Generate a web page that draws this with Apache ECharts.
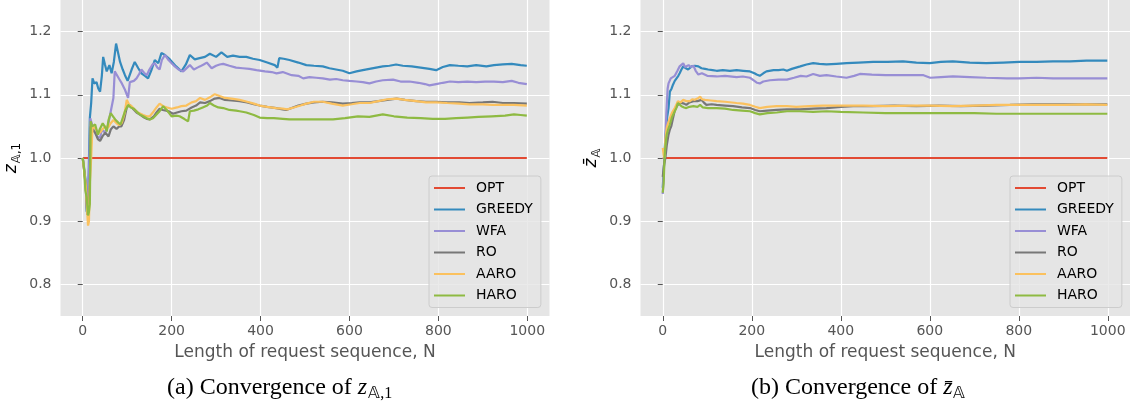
<!DOCTYPE html>
<html>
<head>
<meta charset="utf-8">
<script src="https://cdn.jsdelivr.net/npm/echarts@6/dist/echarts.min.js"></script>
<style>
  html, body { margin: 0; padding: 0; background: #fff; }
  #chart { width: 1131px; height: 413px; }
</style>
</head>
<body>
<div id="chart"></div>
<script>
// 刻度
var xTicks = [0, 200, 400, 600, 800, 1000];
var yTicks = [0.8, 0.9, 1.0, 1.1, 1.2];
var names = ["OPT", "GREEDY", "WFA", "RO", "AARO", "HARO"];
var colors = ["#E24A33", "#348ABD", "#988ED5", "#777777", "#FBC15E", "#8EBA42"];

// (a) z_{A,1}
var optA = [[0, 1.0], [999, 1.0]];
var greedyA = [[0,1.0],[4,1.0],[7,0.96],[9,0.915],[12,0.93],[16,1.063],[19,1.087],[22,1.126],[26,1.118],[31,1.12],[35,1.11],[39,1.105],[43,1.13],[46,1.16],[50,1.148],[54,1.137],[60,1.147],[65,1.134],[70,1.152],[75,1.181],[80,1.165],[84,1.152],[90,1.14],[95,1.131],[101,1.122],[105,1.121],[110,1.14],[117,1.152],[125,1.142],[132,1.134],[140,1.13],[147,1.126],[155,1.14],[162,1.155],[170,1.15],[177,1.166],[185,1.163],[196,1.156],[210,1.145],[222,1.137],[232,1.148],[241,1.163],[252,1.156],[263,1.158],[275,1.16],[286,1.165],[300,1.16],[312,1.167],[325,1.16],[338,1.162],[353,1.16],[368,1.16],[383,1.157],[398,1.155],[415,1.151],[432,1.147],[438,1.143],[442,1.158],[452,1.157],[465,1.155],[485,1.151],[503,1.147],[520,1.146],[540,1.145],[555,1.142],[570,1.14],[585,1.138],[600,1.134],[616,1.137],[630,1.139],[645,1.141],[660,1.143],[675,1.145],[690,1.146],[705,1.148],[720,1.146],[740,1.145],[760,1.143],[780,1.141],[795,1.139],[810,1.144],[826,1.147],[845,1.146],[865,1.145],[885,1.147],[908,1.145],[925,1.147],[945,1.148],[965,1.149],[985,1.147],[999,1.146]];
var wfaA = [[0,1.0],[4,1.0],[7,0.96],[9,0.92],[12,0.93],[15,1.0],[17,1.063],[22,1.05],[28,1.04],[34,1.033],[39,1.032],[43,1.045],[46,1.048],[50,1.04],[57,1.052],[62,1.07],[69,1.095],[72,1.137],[76,1.134],[82,1.125],[88,1.118],[95,1.108],[102,1.095],[106,1.12],[115,1.122],[121,1.126],[127,1.133],[132,1.14],[138,1.135],[144,1.131],[150,1.14],[157,1.148],[162,1.15],[168,1.143],[173,1.14],[178,1.155],[185,1.163],[193,1.155],[200,1.15],[207,1.145],[216,1.14],[226,1.137],[235,1.143],[241,1.147],[250,1.14],[258,1.143],[264,1.145],[272,1.148],[279,1.151],[290,1.142],[300,1.146],[308,1.148],[316,1.149],[330,1.146],[345,1.143],[360,1.142],[375,1.141],[391,1.139],[410,1.137],[425,1.136],[436,1.134],[450,1.136],[470,1.131],[485,1.13],[496,1.126],[510,1.128],[525,1.127],[540,1.126],[556,1.124],[570,1.125],[585,1.123],[600,1.122],[616,1.121],[630,1.12],[645,1.118],[660,1.121],[675,1.123],[698,1.124],[715,1.121],[735,1.121],[755,1.119],[770,1.117],[780,1.115],[795,1.117],[810,1.119],[826,1.121],[845,1.12],[865,1.121],[885,1.12],[905,1.121],[925,1.121],[945,1.12],[965,1.122],[980,1.119],[999,1.117]];
var roA = [[0,1.0],[4,1.0],[7,0.955],[10,0.91],[13,0.92],[16,0.96],[18,1.05],[22,1.045],[28,1.04],[34,1.03],[39,1.027],[45,1.035],[51,1.04],[58,1.034],[63,1.045],[69,1.05],[76,1.046],[82,1.05],[87,1.05],[93,1.06],[99,1.08],[106,1.084],[114,1.077],[121,1.072],[128,1.069],[136,1.065],[144,1.062],[151,1.061],[160,1.066],[166,1.072],[173,1.078],[180,1.076],[188,1.075],[196,1.073],[203,1.07],[212,1.072],[222,1.074],[233,1.075],[245,1.08],[255,1.083],[264,1.088],[275,1.087],[286,1.09],[297,1.094],[308,1.095],[320,1.092],[335,1.091],[353,1.09],[370,1.088],[385,1.085],[398,1.083],[415,1.081],[435,1.079],[450,1.077],[458,1.076],[470,1.079],[485,1.083],[503,1.086],[520,1.088],[540,1.089],[560,1.088],[585,1.086],[605,1.087],[623,1.088],[645,1.088],[665,1.09],[685,1.092],[706,1.094],[725,1.092],[750,1.09],[772,1.089],[795,1.089],[820,1.088],[847,1.088],[870,1.087],[900,1.088],[922,1.089],[945,1.087],[970,1.087],[999,1.086]];
var aaroA = [[0,1.0],[4,1.0],[7,0.955],[10,0.915],[12,0.893],[14,0.9],[16,0.96],[19,1.0],[22,1.05],[28,1.047],[34,1.04],[39,1.04],[45,1.046],[51,1.05],[57,1.048],[63,1.055],[69,1.06],[76,1.055],[82,1.052],[88,1.056],[94,1.07],[99,1.092],[104,1.085],[110,1.082],[118,1.076],[124,1.072],[128,1.069],[136,1.068],[144,1.066],[151,1.066],[160,1.074],[166,1.08],[173,1.086],[181,1.082],[190,1.08],[200,1.078],[212,1.08],[222,1.082],[233,1.083],[245,1.088],[255,1.09],[264,1.095],[275,1.092],[286,1.096],[297,1.101],[308,1.098],[320,1.095],[335,1.094],[353,1.092],[370,1.089],[385,1.086],[398,1.083],[415,1.081],[435,1.079],[450,1.078],[460,1.077],[475,1.08],[490,1.083],[503,1.086],[520,1.089],[540,1.089],[560,1.086],[585,1.083],[605,1.085],[623,1.087],[645,1.087],[665,1.09],[685,1.093],[706,1.094],[725,1.092],[750,1.09],[772,1.088],[795,1.088],[820,1.087],[847,1.086],[870,1.085],[900,1.085],[922,1.084],[945,1.084],[970,1.084],[999,1.083]];
var haroA = [[0,1.0],[3,0.985],[6,0.948],[9,0.937],[12,0.909],[14,0.915],[16,0.927],[18,1.058],[21,1.05],[24,1.048],[28,1.053],[31,1.05],[34,1.037],[38,1.045],[41,1.048],[45,1.055],[48,1.058],[51,1.048],[54,1.042],[58,1.06],[63,1.071],[68,1.066],[73,1.061],[80,1.056],[85,1.053],[89,1.053],[95,1.074],[102,1.084],[108,1.08],[115,1.078],[122,1.073],[128,1.069],[136,1.066],[144,1.063],[151,1.061],[158,1.063],[166,1.069],[173,1.074],[181,1.082],[190,1.075],[200,1.066],[210,1.067],[218,1.066],[228,1.062],[237,1.058],[241,1.074],[250,1.075],[260,1.077],[270,1.08],[280,1.083],[286,1.087],[295,1.083],[305,1.08],[316,1.079],[330,1.076],[345,1.075],[353,1.074],[368,1.072],[385,1.068],[398,1.064],[415,1.063],[430,1.063],[450,1.062],[465,1.061],[485,1.061],[503,1.061],[530,1.061],[563,1.061],[590,1.063],[619,1.066],[645,1.065],[675,1.069],[700,1.066],[730,1.064],[760,1.063],[787,1.062],[815,1.062],[840,1.063],[865,1.064],[890,1.065],[920,1.066],[950,1.067],[970,1.069],[985,1.068],[999,1.067]];

// (b) z̄_A
var optB = [[0, 1.0], [999, 1.0]];
var greedyB = [[0,0.953],[3,0.99],[5,1.022],[8,1.05],[10,1.065],[13,1.079],[16,1.105],[20,1.11],[23,1.116],[27,1.122],[31,1.126],[35,1.13],[38,1.134],[42,1.14],[46,1.145],[52,1.142],[57,1.14],[61,1.143],[65,1.145],[72,1.146],[80,1.145],[87,1.142],[95,1.141],[102,1.14],[112,1.139],[121,1.138],[135,1.139],[151,1.138],[166,1.139],[181,1.138],[196,1.137],[206,1.134],[211,1.132],[218,1.13],[226,1.134],[233,1.137],[249,1.139],[260,1.139],[271,1.14],[279,1.138],[290,1.141],[309,1.145],[323,1.148],[338,1.15],[352,1.149],[368,1.148],[390,1.149],[413,1.15],[440,1.151],[473,1.152],[505,1.152],[540,1.153],[570,1.151],[600,1.15],[625,1.152],[652,1.153],[690,1.151],[727,1.15],[765,1.151],[802,1.152],[840,1.152],[877,1.153],[915,1.153],[952,1.154],[975,1.154],[999,1.154]];
var wfaB = [[0,0.943],[3,0.99],[5,1.015],[8,1.07],[11,1.11],[13,1.118],[18,1.126],[22,1.125],[27,1.13],[33,1.138],[38,1.145],[42,1.148],[46,1.15],[50,1.144],[53,1.142],[58,1.147],[63,1.144],[69,1.146],[74,1.138],[80,1.132],[88,1.134],[100,1.13],[121,1.129],[140,1.13],[166,1.128],[180,1.129],[196,1.127],[206,1.122],[212,1.119],[218,1.118],[226,1.121],[241,1.123],[260,1.124],[279,1.124],[295,1.127],[310,1.13],[323,1.129],[338,1.133],[353,1.13],[368,1.131],[390,1.129],[413,1.127],[430,1.13],[443,1.133],[470,1.132],[500,1.131],[540,1.131],[570,1.131],[586,1.131],[601,1.127],[625,1.128],[652,1.129],[690,1.128],[727,1.127],[773,1.126],[802,1.126],[840,1.127],[877,1.126],[915,1.126],[952,1.126],[999,1.126]];
var roB = [[0,0.97],[3,0.99],[6,1.0],[9,1.02],[13,1.037],[16,1.045],[19,1.05],[23,1.063],[27,1.075],[30,1.08],[34,1.084],[38,1.088],[42,1.09],[48,1.086],[53,1.084],[60,1.088],[69,1.09],[78,1.09],[87,1.092],[92,1.088],[98,1.084],[110,1.085],[121,1.084],[140,1.083],[158,1.082],[178,1.08],[196,1.079],[208,1.076],[218,1.074],[235,1.075],[256,1.076],[279,1.077],[308,1.077],[338,1.078],[368,1.079],[400,1.081],[428,1.082],[470,1.082],[520,1.083],[570,1.082],[620,1.083],[670,1.082],[727,1.083],[780,1.084],[830,1.085],[877,1.085],[930,1.085],[999,1.085]];
var aaroB = [[0,1.016],[2,1.005],[4,1.0],[6,1.03],[9,1.048],[12,1.055],[16,1.063],[21,1.072],[27,1.079],[31,1.085],[34,1.09],[40,1.088],[46,1.092],[53,1.09],[61,1.09],[67,1.093],[72,1.092],[78,1.094],[84,1.097],[88,1.093],[95,1.092],[108,1.091],[121,1.09],[140,1.089],[166,1.087],[180,1.086],[196,1.084],[208,1.081],[218,1.079],[235,1.081],[256,1.082],[279,1.082],[300,1.081],[330,1.082],[360,1.083],[400,1.083],[450,1.083],[500,1.082],[560,1.083],[600,1.083],[650,1.082],[700,1.083],[750,1.084],[800,1.084],[850,1.084],[900,1.084],[950,1.085],[999,1.084]];
var haroB = [[0,0.945],[2,0.96],[4,1.0],[6,1.02],[9,1.037],[12,1.045],[16,1.053],[21,1.065],[27,1.074],[31,1.08],[34,1.087],[38,1.084],[42,1.082],[48,1.08],[53,1.079],[60,1.081],[69,1.082],[78,1.081],[84,1.084],[90,1.08],[102,1.079],[121,1.079],[140,1.078],[158,1.076],[178,1.075],[196,1.074],[208,1.071],[218,1.069],[235,1.071],[256,1.072],[279,1.074],[308,1.074],[338,1.073],[368,1.074],[400,1.073],[450,1.072],[500,1.071],[550,1.071],[600,1.071],[650,1.071],[700,1.071],[750,1.07],[800,1.07],[850,1.07],[900,1.07],[950,1.07],[999,1.07]];

var seriesA = [optA, greedyA, wfaA, roA, aaroA, haroA];
var seriesB = [optB, greedyB, wfaB, roB, aaroB, haroB];

var sans = "DejaVu Sans";
var serif = "Liberation Serif";

// x轴
function makeX(idx) {
  return {
    type: "value", gridIndex: idx, min: -50, max: 1050,
    axisLine: { show: false },
    axisTick: { show: true, length: 5, customValues: xTicks, lineStyle: { color: "#555555", width: 1 } },
    axisLabel: { customValues: xTicks, color: "#555555", fontSize: 14, fontFamily: sans, margin: 8,
      formatter: function (v) { return String(v); } },
    splitLine: { show: true, lineStyle: { color: "#ffffff", width: 1.2 } },
    name: "Length of request sequence, N", nameLocation: "middle", nameGap: 28,
    nameTextStyle: { color: "#555555", fontSize: 17, fontFamily: sans }
  };
}
// y轴
function makeY(idx) {
  return {
    type: "value", gridIndex: idx, min: 0.75, max: 1.25,
    axisLine: { show: false },
    axisTick: { show: true, length: 5, customValues: yTicks, lineStyle: { color: "#555555", width: 1 } },
    axisLabel: { customValues: yTicks, color: "#555555", fontSize: 14, fontFamily: sans, margin: 9,
      formatter: function (v) { return v.toFixed(1); } },
    splitLine: { show: true, lineStyle: { color: "#ffffff", width: 1.2 } }
  };
}

var series = [];
[seriesA, seriesB].forEach(function (group, g) {
  group.forEach(function (d, i) {
    series.push({
      name: names[i], type: "line", xAxisIndex: g, yAxisIndex: g, data: d,
      showSymbol: false, symbol: "none", animation: false,
      lineStyle: { color: colors[i], width: 2.2 },
      itemStyle: { color: colors[i] }
    });
  });
});

function makeLegend(left) {
  return {
    data: names, orient: "vertical", left: left, top: 176,
    icon: "rect", itemWidth: 31, itemHeight: 2, itemGap: 7.5,
    padding: [5, 8, 5, 5],
    backgroundColor: "rgba(229,229,229,0.8)", borderColor: "#cccccc", borderWidth: 1, borderRadius: 3,
    selectedMode: false,
    textStyle: { color: "#000", fontSize: 14, fontFamily: sans, padding: [0, 0, 0, 6] }
  };
}

var subRich = {
  z: { fontStyle: "italic", fontSize: 17, fontFamily: sans, color: "#555555" },
  s: { fontSize: 12, fontFamily: sans, color: "#555555", padding: [9, 0, 0, 1] }
};
var capRich = {
  t: { fontSize: 24, fontFamily: serif, color: "#000" },
  z: { fontStyle: "italic", fontSize: 24, fontFamily: serif, color: "#000" },
  s: { fontSize: 16, fontFamily: serif, color: "#000", padding: [12, 0, 0, 1] }
};

var option = {
  backgroundColor: "#ffffff",
  animation: false,
  grid: [
    { left: 60.5, top: -2, width: 489, height: 318, show: true, backgroundColor: "#E5E5E5", borderWidth: 0 },
    { left: 640.5, top: -2, width: 489.5, height: 318, show: true, backgroundColor: "#E5E5E5", borderWidth: 0 }
  ],
  xAxis: [makeX(0), makeX(1)],
  yAxis: [makeY(0), makeY(1)],
  legend: [makeLegend(429), makeLegend(1010)],
  series: series,
  graphic: [
    { type: "text", x: 12, y: 158, rotation: Math.PI / 2,
      style: { text: "{z|z}{s|𝔸,1}", rich: subRich, align: "center", verticalAlign: "middle" } },
    { type: "text", x: 592, y: 158, rotation: Math.PI / 2,
      style: { text: "{z|z\u0304}{s|𝔸}", rich: subRich, align: "center", verticalAlign: "middle" } },
    { type: "text", x: 167, y: 388,
      style: { text: "{t|(a) Convergence of }{z|z}{s|𝔸,1}", rich: capRich, align: "left", verticalAlign: "middle" } },
    { type: "text", x: 751, y: 388,
      style: { text: "{t|(b) Convergence of }{z|z\u0304}{s|𝔸}", rich: capRich, align: "left", verticalAlign: "middle" } }
  ]
};

var myChart = echarts.init(document.getElementById("chart"));
myChart.setOption(option);
</script>
</body>
</html>
